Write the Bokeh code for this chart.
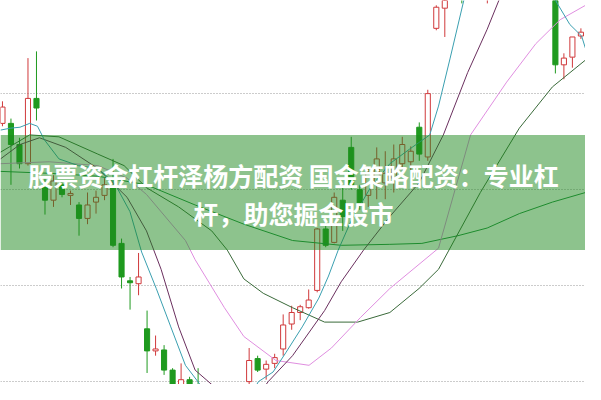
from bokeh.plotting import figure
from bokeh.models import (ColumnDataSource, Range1d, BoxAnnotation, Label, FixedTicker,
                          CDSView, BooleanFilter)
from bokeh.embed import file_html
from bokeh.resources import INLINE

# ---- candle data (index, OHLC) ----
opens  = [7.69, 7.69, 7.47, 7.27, 7.95, 7.07, 6.89, 7.05, 6.94, 6.84,
          6.70, 6.87, 6.94, 7.02, 6.44, 6.05, 6.02, 5.55, 5.32, 5.33,
          5.12, 4.93, 5.02, 4.93, 4.80, 4.70, 4.55, 4.60, 4.72, 5.00,
          5.24, 5.13, 5.19, 5.34, 5.60, 5.72, 5.77, 5.95, 6.59, 6.45,
          6.89, 7.44, 7.00, 6.94, 7.07, 7.07, 7.12, 7.27, 7.29, 7.65,
          7.34, 8.68, 8.89, 9.60, 9.80, 9.70, 9.85, 9.60, 9.95, 10.05,
          10.20, 10.10, 10.25, 10.15, 10.05, 10.00, 8.30, 8.38, 8.60]
highs  = [7.92, 7.74, 7.54, 8.37, 8.44, 7.12, 7.15, 7.10, 6.99, 6.87,
          6.97, 6.99, 7.12, 7.32, 6.49, 6.09, 6.34, 5.74, 5.48, 5.38,
          5.14, 5.19, 5.05, 5.14, 4.90, 4.78, 4.70, 4.85, 4.92, 5.35,
          5.27, 5.22, 5.29, 5.70, 5.79, 5.80, 5.96, 6.60, 6.67, 6.97,
          7.02, 7.55, 7.05, 7.22, 7.44, 7.40, 7.47, 7.55, 7.45, 7.70,
          8.04, 8.92, 9.60, 9.85, 9.90, 9.95, 10.10, 10.00, 10.15, 10.30,
          10.35, 10.30, 10.40, 10.30, 10.20, 10.10, 8.42, 8.59, 8.68]
lows   = [7.66, 7.05, 7.22, 7.25, 7.72, 6.74, 6.82, 6.92, 6.84, 6.52,
          6.64, 6.75, 6.89, 6.40, 5.97, 5.75, 5.90, 5.09, 5.27, 5.07,
          4.90, 4.90, 4.88, 4.75, 4.60, 4.48, 4.45, 4.55, 4.66, 4.97,
          5.10, 5.02, 5.14, 5.27, 5.54, 5.64, 5.76, 5.93, 6.40, 6.44,
          6.57, 7.00, 6.79, 6.82, 6.90, 6.90, 6.97, 7.20, 7.20, 7.30,
          7.30, 8.66, 8.59, 9.50, 8.94, 9.60, 9.75, 8.94, 9.85, 9.95,
          10.05, 9.95, 10.05, 9.95, 9.85, 8.21, 8.15, 8.27, 8.57]
closes = [7.86, 7.47, 7.27, 7.95, 7.85, 6.89, 7.09, 6.95, 6.96, 6.70,
          6.84, 6.92, 7.05, 6.42, 6.09, 6.03, 6.09, 5.32, 5.34, 5.12,
          4.95, 5.02, 4.92, 4.80, 4.70, 4.55, 4.62, 4.72, 4.78, 5.22,
          5.12, 5.18, 5.25, 5.59, 5.72, 5.78, 5.85, 6.59, 6.42, 6.92,
          6.72, 7.04, 6.85, 7.17, 7.32, 7.17, 7.32, 7.47, 7.40, 7.37,
          8.00, 8.90, 9.50, 9.75, 9.55, 9.85, 10.00, 9.90, 10.05, 10.20,
          10.10, 10.25, 10.15, 10.05, 10.00, 8.30, 8.37, 8.59, 8.64]

# ---- moving-average lines (index, price) ----
ma5_x  = [-0.23, 0.92, 2.06, 3.20, 4.12, 4.92, 6.64, 8.92, 11.21, 13.16,
          14.99, 16.36, 18.08, 19.79, 21.51, 23.23, 24.94, 27.23, 28.95, 30.09,
          31.81, 33.30, 35.24, 37.19, 38.33, 39.47, 40.96, 43.25, 45.54, 47.83,
          50.23, 51.26, 52.63, 54.23, 55.84, 60.41, 63.84, 65.22, 66.70, 68.08, 68.54]
ma5_y  = [7.62, 7.64, 7.65, 7.69, 7.66, 7.52, 7.32, 7.25, 7.22, 7.07,
          6.77, 6.35, 5.97, 5.57, 5.17, 4.97, 4.77, 4.69, 4.82, 5.00,
          5.10, 5.30, 5.57, 5.87, 6.10, 6.37, 6.67, 7.02, 7.27, 7.42,
          7.57, 7.87, 8.37, 8.97, 9.37, 9.57, 9.17, 8.94, 8.72, 8.60, 8.47]

ma10_x = [-0.23, 2.06, 4.35, 7.44, 11.21, 14.65, 16.93, 18.65, 20.71, 22.65,
          24.60, 27.23, 29.75, 31.24, 34.10, 37.87, 39.82, 42.45, 45.54, 48.97,
          51.83, 54.69, 56.98, 58.35, 61.56, 68.54]
ma10_y = [7.32, 7.47, 7.54, 7.44, 7.22, 6.92, 6.57, 6.17, 5.57, 5.12,
          4.97, 4.77, 4.82, 5.00, 5.27, 5.74, 6.04, 6.37, 6.72, 7.07,
          7.57, 8.22, 8.67, 8.97, 9.37, 9.57]

ma20_x = [-0.23, 5.49, 11.21, 14.65, 16.93, 21.51, 22.65, 26.09, 28.38, 32.15,
          36.04, 38.67, 42.11, 45.54, 51.26, 55.03, 59.27, 62.70, 65.56, 68.54]
ma20_y = [7.27, 7.29, 7.25, 7.12, 6.95, 6.47, 6.27, 5.77, 5.47, 5.22,
          5.17, 5.35, 5.67, 5.97, 6.39, 7.57, 8.12, 8.52, 8.77, 8.92]

ma30_x = [-0.23, 3.20, 6.64, 11.21, 14.30, 16.93, 20.71, 24.60, 26.43, 28.38,
          30.66, 34.10, 37.87, 41.76, 45.54, 48.97, 51.26, 56.18, 60.76, 64.65, 68.54]
ma30_y = [7.39, 7.57, 7.55, 7.37, 7.25, 7.02, 6.82, 6.57, 6.37, 6.07,
          5.92, 5.77, 5.62, 5.62, 5.72, 5.97, 6.17, 6.97, 7.64, 8.07, 8.35]

ma60_x = [-0.23, 5.49, 11.21, 16.93, 22.65, 28.38, 34.10, 39.82, 45.54, 49.31,
          53.55, 56.98, 60.76, 64.65, 68.54]
ma60_y = [7.19, 7.17, 7.14, 7.05, 6.84, 6.64, 6.47, 6.42, 6.43, 6.44,
          6.52, 6.60, 6.75, 6.87, 6.97]

grid_levels = [5, 6, 7, 8]
title_lines = ["股票资金杠杆泽杨方配资 国金策略配资：专业杠", "杆，助您掘金股市"]

YMIN, YMAX = 4.97, 8.97
RED = "#d0393b"
GREEN = "#1f9a1f"

n = len(opens)
idx = list(range(n))
up = [c >= o for o, c in zip(opens, closes)]
tops = [max(o, c) for o, c in zip(opens, closes)]
bots = [min(o, c) for o, c in zip(opens, closes)]
src = ColumnDataSource(dict(
    x=idx, high=highs, low=lows, top=tops, bottom=bots,
    line=[RED if u else GREEN for u in up],
    fill=["#ffffff" if u else GREEN for u in up],
))
# only render the parts that fall inside the visible price window
wick_view = CDSView(filter=BooleanFilter([(l <= YMAX and h >= YMIN) for l, h in zip(lows, highs)]))
body_view = CDSView(filter=BooleanFilter([(b <= YMAX and t >= YMIN) for b, t in zip(bots, tops)]))

p = figure(width=585, height=384, output_backend="svg", toolbar_location=None,
           x_range=Range1d(-0.23, 68.54), y_range=Range1d(YMIN, YMAX),
           min_border=0, outline_line_color=None)
p.xaxis.visible = False
p.yaxis.visible = False
p.xgrid.visible = False
p.ygrid.ticker = FixedTicker(ticks=grid_levels)
p.ygrid.grid_line_color = "#999999"
p.ygrid.grid_line_dash = "1 2"
p.ygrid.grid_line_width = 1
p.background_fill_color = "#ffffff"
p.border_fill_color = "#ffffff"

p.segment(x0="x", y0="low", x1="x", y1="high", source=src, view=wick_view,
          line_color="line", line_width=1)
p.vbar(x="x", top="top", bottom="bottom", width=0.6, source=src, view=body_view,
       fill_color="fill", line_color="line", line_width=1)

p.line(ma60_x, ma60_y, line_color="#1f8f3f", line_width=1)
p.line(ma30_x, ma30_y, line_color="#3a6a3a", line_width=1)
p.line(ma20_x, ma20_y, line_color="#e08ee0", line_width=1)
p.line(ma10_x, ma10_y, line_color="#6a2f5e", line_width=1)
p.line(ma5_x, ma5_y, line_color="#3a9fb0", line_width=1)

p.add_layout(BoxAnnotation(bottom=6.37, top=7.57, fill_color="#1b871b",
                           fill_alpha=0.5, line_color=None))
for txt, ys in zip(title_lines, [210, 172]):
    p.add_layout(Label(x=293, y=ys, x_units="screen", y_units="screen", text=txt,
                       text_align="center", text_baseline="middle",
                       text_color="#ffffff", text_font="Noto Sans CJK SC",
                       text_font_style="bold", text_font_size="25px"))

open("out.html", "w").write(file_html(p, INLINE))
